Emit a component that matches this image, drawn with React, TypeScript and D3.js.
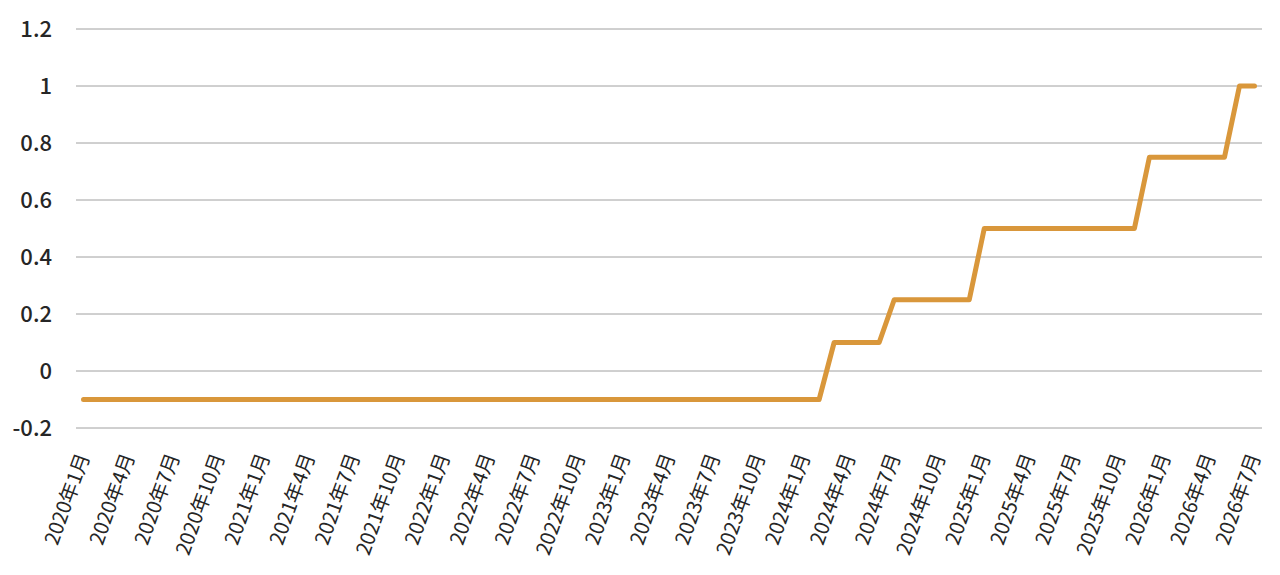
import React, { useEffect, useRef } from 'react'
import * as d3 from 'd3'

// monthly policy rate, 2020/1 .. 2026/7
const months: string[] = []
for (let y = 2020; y <= 2026; y++) {
  for (let m = 1; m <= 12; m++) {
    if (y === 2026 && m > 7) break
    months.push(`${y}年${m}月`)
  }
}

const rateSteps = [
  { from: '2020年1月', value: -0.1 },
  { from: '2024年3月', value: 0.1 },
  { from: '2024年7月', value: 0.25 },
  { from: '2025年1月', value: 0.5 },
  { from: '2025年12月', value: 0.75 },
  { from: '2026年6月', value: 1.0 },
]

const yTicks = [-0.2, 0, 0.2, 0.4, 0.6, 0.8, 1, 1.2]

export default function App(): React.ReactElement {
  const chartRef = useRef<HTMLDivElement>(null)

  useEffect(() => {
    const width = 1280
    const height = 575
    const marginLeft = 76
    const marginRight = 18
    const marginTop = 29
    const bottomY = 428

    const values = months.map((m) => {
      const idx = months.indexOf(m)
      let v = rateSteps[0].value
      rateSteps.forEach((s) => {
        if (months.indexOf(s.from) <= idx) v = s.value
      })
      return { month: m, value: v }
    })

    const x = d3
      .scaleBand()
      .domain(months)
      .range([marginLeft, width - marginRight])

    const y = d3.scaleLinear().domain([-0.2, 1.2]).range([bottomY, marginTop])

    d3.select(chartRef.current).select('svg').remove()

    const svg = d3
      .select(chartRef.current)
      .append('svg')
      .attr('width', width)
      .attr('height', height)
      .attr('viewBox', `0 0 ${width} ${height}`)
      .style('display', 'block')
      .style('font-family', '"Noto Sans CJK JP", "Noto Sans", sans-serif')

    // grid
    svg
      .append('g')
      .selectAll('line')
      .data(yTicks)
      .join('line')
      .attr('x1', marginLeft)
      .attr('x2', width - marginRight)
      .attr('y1', (d) => y(d))
      .attr('y2', (d) => y(d))
      .attr('stroke', '#a0a0a0')
      .attr('stroke-width', 1)

    // y labels
    svg
      .append('g')
      .selectAll('text')
      .data(yTicks)
      .join('text')
      .attr('x', 52)
      .attr('y', (d) => y(d))
      .attr('dy', '0.35em')
      .attr('text-anchor', 'end')
      .attr('font-size', 22)
      .attr('font-weight', 500)
      .attr('fill', '#262626')
      .text((d) => String(d))

    // x labels (quarterly)
    const labelMonths = months.filter((_, i) => i % 3 === 0)
    svg
      .append('g')
      .selectAll('text')
      .data(labelMonths)
      .join('text')
      .attr('transform', (d) => {
        const cx = x(d)! + x.bandwidth() / 2
        return `translate(${cx},${bottomY + 26}) rotate(-70)`
      })
      .attr('text-anchor', 'end')
      .attr('dy', '0.35em')
      .attr('font-size', 20)
      .attr('font-weight', 400)
      .attr('fill', '#262626')
      .text((d) => d)

    const line = d3
      .line<{ month: string; value: number }>()
      .x((d) => x(d.month)! + x.bandwidth() / 2)
      .y((d) => y(d.value))

    svg
      .append('path')
      .datum(values)
      .attr('d', line)
      .attr('fill', 'none')
      .attr('stroke', '#d9973b')
      .attr('stroke-width', 5)
      .attr('stroke-linejoin', 'round')
      .attr('stroke-linecap', 'round')
  }, [])

  return <div ref={chartRef} style={{ margin: -8 }}></div>
}
